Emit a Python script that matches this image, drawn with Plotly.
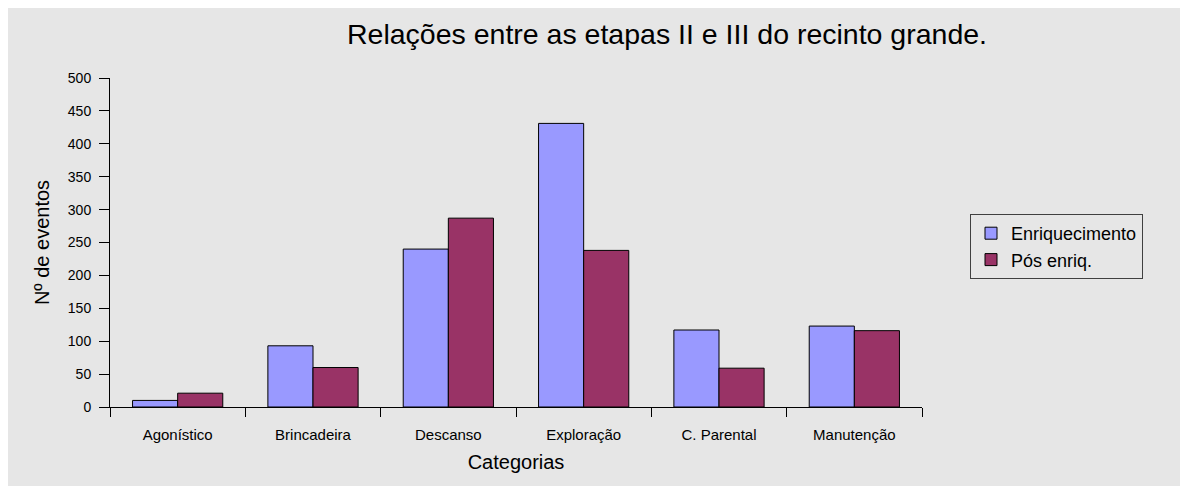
import plotly.graph_objects as go

categories = ["Agonístico", "Brincadeira", "Descanso", "Exploração", "C. Parental", "Manutenção"]
enriquecimento = [10, 93, 240, 431, 117, 123]
pos_enriq = [21, 60, 287, 238, 59, 116]
y_ticks = [0, 50, 100, 150, 200, 250, 300, 350, 400, 450, 500]

# page body adds an 8px offset; the figure is sized to fit the window
W, H = 1180, 478
L, R, T, B = 102, 266, 70, 79
pw, ph = W - L - R, H - T - B

fig = go.Figure()
fig.add_trace(go.Bar(x=categories, y=enriquecimento, name="Enriquecimento",
                     marker=dict(color="#9999FF", line=dict(color="#000000", width=1))))
fig.add_trace(go.Bar(x=categories, y=pos_enriq, name="Pós enriq.",
                     marker=dict(color="#993366", line=dict(color="#000000", width=1))))

fig.update_layout(
    width=W, height=H,
    margin=dict(l=L, r=R, t=T, b=B),
    paper_bgcolor="#e6e6e6", plot_bgcolor="rgba(0,0,0,0)",
    font=dict(family="Liberation Sans, Arial, sans-serif", color="#000000"),
    barmode="group", bargap=1/3, bargroupgap=0,
    title=dict(text="Relações entre as etapas II e III do recinto grande.",
               x=659 / W, xanchor="center",
               y=1 - 26 / H, yanchor="middle",
               font=dict(size=28.5, color="#000000")),
    legend=dict(x=(962 - L) / pw, y=(H - B - 206) / ph, xanchor="left", yanchor="top",
                bgcolor="rgba(0,0,0,0)", bordercolor="#404040", borderwidth=1,
                font=dict(size=18), traceorder="normal"),
    showlegend=True,
)
fig.update_xaxes(
    showline=True, linecolor="#000000", linewidth=1,
    ticks="outside", tickson="boundaries", ticklen=9, tickcolor="#000000",
    tickfont=dict(size=15), ticklabelstandoff=14, showgrid=False, zeroline=False,
    title=dict(text="Categorias", font=dict(size=20), standoff=12),
)
fig.update_yaxes(
    range=[0, 500], tickvals=y_ticks, showline=True, linecolor="#000000", linewidth=1,
    ticks="outside", ticklen=10, tickcolor="#000000", tickfont=dict(size=14),
    ticklabelstandoff=5, showgrid=False, zeroline=False,
    title=dict(text="Nº de eventos", font=dict(size=20), standoff=12),
)

fig.write_html("out.html")
